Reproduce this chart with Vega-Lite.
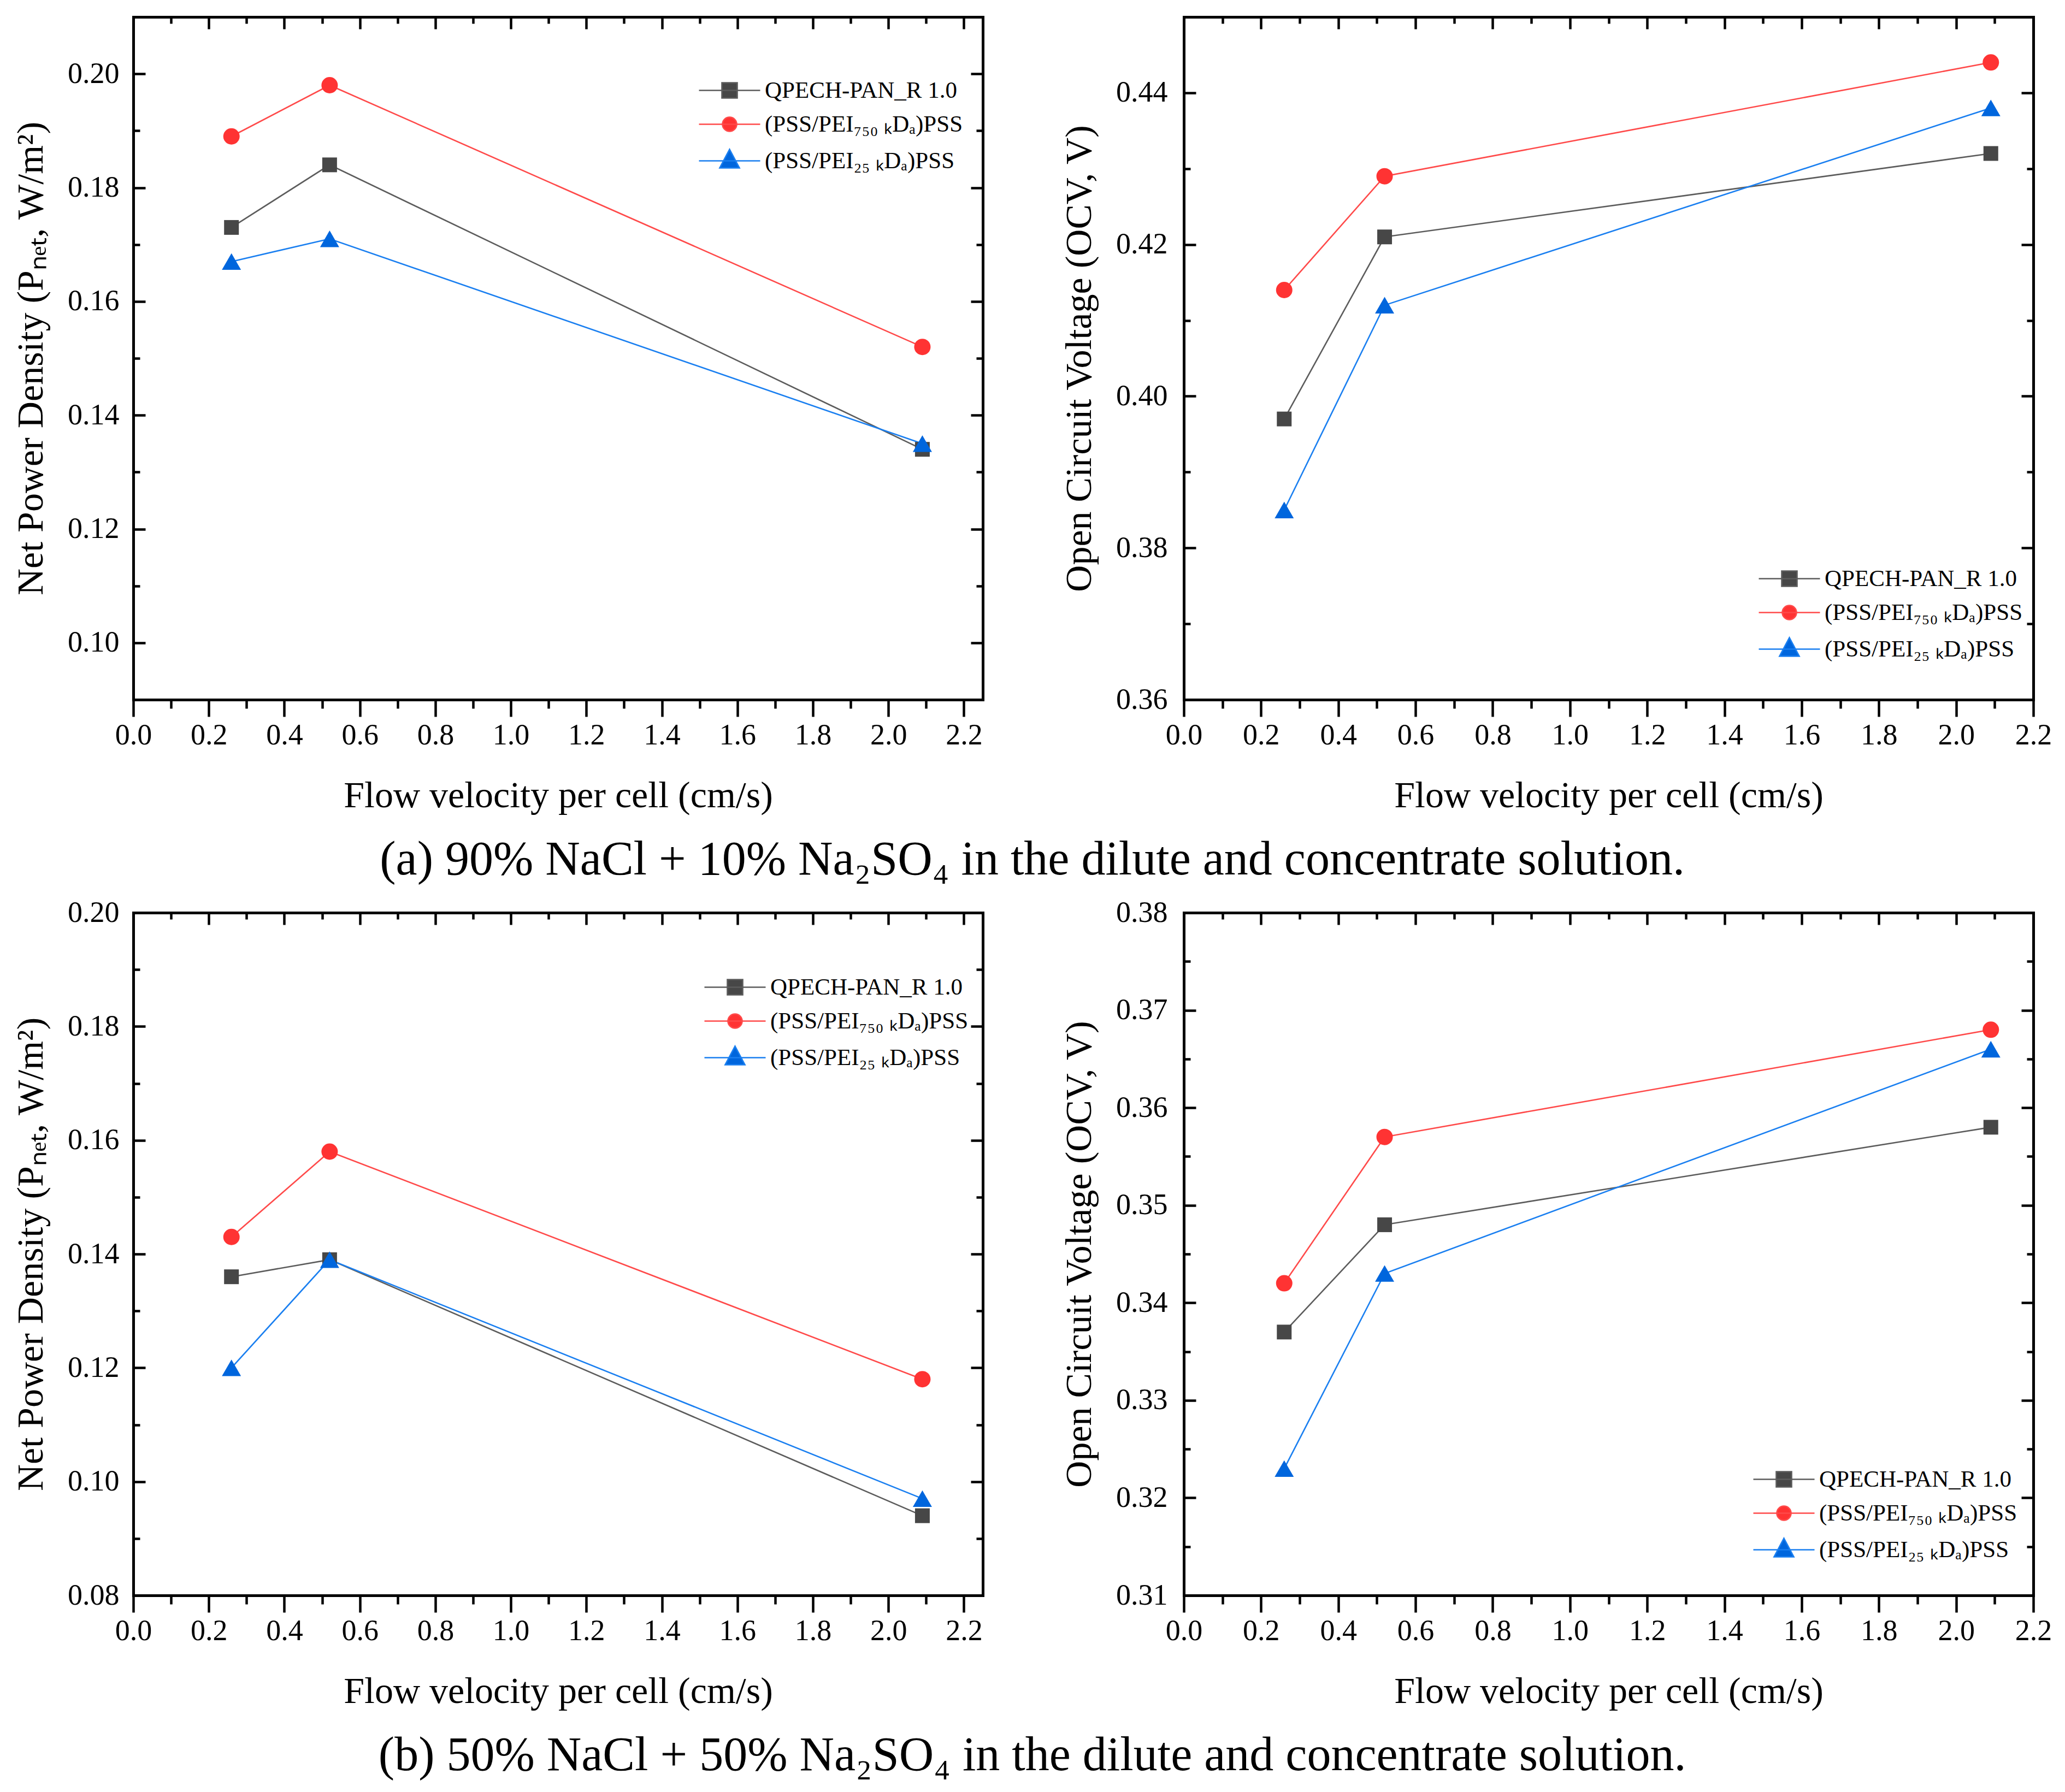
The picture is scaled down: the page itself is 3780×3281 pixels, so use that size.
{
  "$schema": "https://vega.github.io/schema/vega-lite/v6.json",
  "background": "white",
  "padding": {"left": 23, "top": 28, "right": 10, "bottom": 10},
  "config": {
    "view": {"stroke": null},
    "axis": {
      "grid": false, "labelFlush": false,
      "labelFont": "Liberation Serif", "labelFontSize": 54, "labelColor": "black",
      "titleFont": "Liberation Serif", "titleFontSize": 68, "titleFontWeight": "normal", "titleColor": "black",
      "domainColor": "black", "domainWidth": 5, "domainCap": "square",
      "tickColor": "black", "tickWidth": 4.5
    },
    "legend": {
      "direction": "vertical", "padding": 0, "rowPadding": 18,
      "symbolSize": 1600, "symbolStrokeWidth": 2.6, "symbolOpacity": 1,
      "symbolFillColor": "#000000", "symbolStrokeColor": "#000000",
      "labelFont": "Liberation Serif", "labelFontSize": 43, "labelColor": "black",
      "labelOffset": 43, "labelLimit": 1000
    }
  },
  "datasets": {
    "pts": [
      {"panel": "a1", "series": "QPECH-PAN_R 1.0", "velocity": 0.26, "value": 0.173},
      {"panel": "a1", "series": "QPECH-PAN_R 1.0", "velocity": 0.52, "value": 0.184},
      {"panel": "a1", "series": "QPECH-PAN_R 1.0", "velocity": 2.09, "value": 0.134},
      {"panel": "a1", "series": "(PSS/PEI₇₅₀ ₖDₐ)PSS", "velocity": 0.26, "value": 0.189},
      {"panel": "a1", "series": "(PSS/PEI₇₅₀ ₖDₐ)PSS", "velocity": 0.52, "value": 0.198},
      {"panel": "a1", "series": "(PSS/PEI₇₅₀ ₖDₐ)PSS", "velocity": 2.09, "value": 0.152},
      {"panel": "a1", "series": "(PSS/PEI₂₅ ₖDₐ)PSS", "velocity": 0.26, "value": 0.167},
      {"panel": "a1", "series": "(PSS/PEI₂₅ ₖDₐ)PSS", "velocity": 0.52, "value": 0.171},
      {"panel": "a1", "series": "(PSS/PEI₂₅ ₖDₐ)PSS", "velocity": 2.09, "value": 0.135},
      {"panel": "a2", "series": "QPECH-PAN_R 1.0", "velocity": 0.26, "value": 0.397},
      {"panel": "a2", "series": "QPECH-PAN_R 1.0", "velocity": 0.52, "value": 0.421},
      {"panel": "a2", "series": "QPECH-PAN_R 1.0", "velocity": 2.09, "value": 0.432},
      {"panel": "a2", "series": "(PSS/PEI₇₅₀ ₖDₐ)PSS", "velocity": 0.26, "value": 0.414},
      {"panel": "a2", "series": "(PSS/PEI₇₅₀ ₖDₐ)PSS", "velocity": 0.52, "value": 0.429},
      {"panel": "a2", "series": "(PSS/PEI₇₅₀ ₖDₐ)PSS", "velocity": 2.09, "value": 0.444},
      {"panel": "a2", "series": "(PSS/PEI₂₅ ₖDₐ)PSS", "velocity": 0.26, "value": 0.385},
      {"panel": "a2", "series": "(PSS/PEI₂₅ ₖDₐ)PSS", "velocity": 0.52, "value": 0.412},
      {"panel": "a2", "series": "(PSS/PEI₂₅ ₖDₐ)PSS", "velocity": 2.09, "value": 0.438},
      {"panel": "b1", "series": "QPECH-PAN_R 1.0", "velocity": 0.26, "value": 0.136},
      {"panel": "b1", "series": "QPECH-PAN_R 1.0", "velocity": 0.52, "value": 0.139},
      {"panel": "b1", "series": "QPECH-PAN_R 1.0", "velocity": 2.09, "value": 0.094},
      {"panel": "b1", "series": "(PSS/PEI₇₅₀ ₖDₐ)PSS", "velocity": 0.26, "value": 0.143},
      {"panel": "b1", "series": "(PSS/PEI₇₅₀ ₖDₐ)PSS", "velocity": 0.52, "value": 0.158},
      {"panel": "b1", "series": "(PSS/PEI₇₅₀ ₖDₐ)PSS", "velocity": 2.09, "value": 0.118},
      {"panel": "b1", "series": "(PSS/PEI₂₅ ₖDₐ)PSS", "velocity": 0.26, "value": 0.120},
      {"panel": "b1", "series": "(PSS/PEI₂₅ ₖDₐ)PSS", "velocity": 0.52, "value": 0.139},
      {"panel": "b1", "series": "(PSS/PEI₂₅ ₖDₐ)PSS", "velocity": 2.09, "value": 0.097},
      {"panel": "b2", "series": "QPECH-PAN_R 1.0", "velocity": 0.26, "value": 0.337},
      {"panel": "b2", "series": "QPECH-PAN_R 1.0", "velocity": 0.52, "value": 0.348},
      {"panel": "b2", "series": "QPECH-PAN_R 1.0", "velocity": 2.09, "value": 0.358},
      {"panel": "b2", "series": "(PSS/PEI₇₅₀ ₖDₐ)PSS", "velocity": 0.26, "value": 0.342},
      {"panel": "b2", "series": "(PSS/PEI₇₅₀ ₖDₐ)PSS", "velocity": 0.52, "value": 0.357},
      {"panel": "b2", "series": "(PSS/PEI₇₅₀ ₖDₐ)PSS", "velocity": 2.09, "value": 0.368},
      {"panel": "b2", "series": "(PSS/PEI₂₅ ₖDₐ)PSS", "velocity": 0.26, "value": 0.323},
      {"panel": "b2", "series": "(PSS/PEI₂₅ ₖDₐ)PSS", "velocity": 0.52, "value": 0.343},
      {"panel": "b2", "series": "(PSS/PEI₂₅ ₖDₐ)PSS", "velocity": 2.09, "value": 0.366}
    ]
  },
  "bounds": "flush",
  "spacing": 1640,
  "resolve": {"scale": {"color": "independent", "stroke": "independent", "shape": "independent"}},
  "vconcat": [
    {
      "bounds": "flush",
      "spacing": 368,
      "resolve": {"scale": {"color": "independent", "stroke": "independent", "shape": "independent"}},
      "title": {"text": "(a) 90% NaCl + 10% Na₂SO₄ in the dilute and concentrate solution.", "orient": "bottom", "anchor": "middle", "offset": 40, "font": "Liberation Serif", "fontSize": 88, "fontWeight": "normal", "color": "black"},
      "hconcat": [
        {
          "width": 1555, "height": 1250,
          "data": {"name": "pts"},
          "transform": [{"filter": "datum.panel === 'a1'"}],
          "resolve": {"axis": {"x": "independent", "y": "independent"}},
          "layer": [
            {
              "transform": [{"filter": "false"}],
              "mark": {"type": "point", "filled": true, "opacity": 1},
              "encoding": {
                "x": {"field": "velocity", "type": "quantitative", "scale": {"domain": [0, 2.25], "nice": false, "zero": false},
                  "axis": {"orient": "bottom", "values": [0.1, 0.3, 0.5, 0.7, 0.9, 1.1, 1.3, 1.5, 1.7, 1.9, 2.1], "labels": false, "domain": false, "title": null, "tickSize": 16}},
                "y": {"field": "value", "type": "quantitative", "scale": {"domain": [0.09, 0.21], "nice": false, "zero": false},
                  "axis": {"orient": "left", "values": [0.09, 0.11, 0.13, 0.15, 0.17, 0.19, 0.21], "labels": false, "domain": false, "title": null, "tickSize": -12}},
                "color": {"field": "series", "type": "nominal", "scale": {"domain": ["QPECH-PAN_R 1.0", "(PSS/PEI₇₅₀ ₖDₐ)PSS", "(PSS/PEI₂₅ ₖDₐ)PSS"], "range": ["#474747", "#ff3333", "#0066dd"]},
                  "legend": {"title": null, "orient": "none", "legendX": 1070, "legendY": 113}},
                "stroke": {"field": "series", "type": "nominal", "scale": {"domain": ["QPECH-PAN_R 1.0", "(PSS/PEI₇₅₀ ₖDₐ)PSS", "(PSS/PEI₂₅ ₖDₐ)PSS"], "range": ["#5c5c5c", "#ff4a4a", "#1a7ff0"]},
                  "legend": {"title": null, "orient": "none", "legendX": 1070, "legendY": 113}},
                "shape": {"field": "series", "type": "nominal", "scale": {"domain": ["QPECH-PAN_R 1.0", "(PSS/PEI₇₅₀ ₖDₐ)PSS", "(PSS/PEI₂₅ ₖDₐ)PSS"], "range": ["M-2.8,0H2.8M-0.7,-0.7H0.7V0.7H-0.7Z", "M-2.8,0H2.8M-0.65,0A0.65,0.65,0,1,0,0.65,0A0.65,0.65,0,1,0,-0.65,0Z", "M-2.8,0H2.8M0,-1.05L0.9,0.65H-0.9Z"]},
                  "legend": {"title": null, "orient": "none", "legendX": 1070, "legendY": 113}}
              }
            },
            {
              "mark": {"type": "line", "strokeWidth": 2.6},
              "encoding": {
                "x": {"field": "velocity", "type": "quantitative", "scale": {"domain": [0, 2.25], "nice": false, "zero": false},
                  "axis": {"orient": "bottom", "values": [0, 0.2, 0.4, 0.6, 0.8, 1, 1.2, 1.4, 1.6, 1.8, 2, 2.2], "format": ".1f", "ticks": false, "labelPadding": 38, "title": "Flow velocity per cell (cm/s)", "titlePadding": 50}},
                "y": {"field": "value", "type": "quantitative", "scale": {"domain": [0.09, 0.21], "nice": false, "zero": false},
                  "axis": {"orient": "left", "values": [0.1, 0.12, 0.14, 0.16, 0.18, 0.2], "format": ".2f", "ticks": false, "labelPadding": 26, "title": "Net Power Density (Pₙₑₜ, W/m²)", "titlePadding": 32}},
                "stroke": {"field": "series", "type": "nominal", "scale": {"domain": ["QPECH-PAN_R 1.0", "(PSS/PEI₇₅₀ ₖDₐ)PSS", "(PSS/PEI₂₅ ₖDₐ)PSS"], "range": ["#5c5c5c", "#ff4a4a", "#1a7ff0"]}, "legend": null}
              }
            },
            {
              "mark": {"type": "point", "filled": true, "opacity": 1},
              "encoding": {
                "x": {"field": "velocity", "type": "quantitative", "scale": {"domain": [0, 2.25], "nice": false, "zero": false},
                  "axis": {"orient": "bottom", "values": [0, 0.2, 0.4, 0.6, 0.8, 1, 1.2, 1.4, 1.6, 1.8, 2, 2.2], "labels": false, "domain": false, "title": null, "tickSize": 31}},
                "y": {"field": "value", "type": "quantitative", "scale": {"domain": [0.09, 0.21], "nice": false, "zero": false},
                  "axis": {"orient": "left", "values": [0.1, 0.12, 0.14, 0.16, 0.18, 0.2], "labels": false, "domain": false, "title": null, "tickSize": -22}},
                "color": {"field": "series", "type": "nominal", "scale": {"domain": ["QPECH-PAN_R 1.0", "(PSS/PEI₇₅₀ ₖDₐ)PSS", "(PSS/PEI₂₅ ₖDₐ)PSS"], "range": ["#474747", "#ff3333", "#0066dd"]}, "legend": null},
                "shape": {"condition": [{"test": "datum.series === 'QPECH-PAN_R 1.0'", "value": "square"}, {"test": "datum.series === '(PSS/PEI₇₅₀ ₖDₐ)PSS'", "value": "circle"}], "value": "triangle-up"},
                "size": {"condition": [{"test": "datum.series === 'QPECH-PAN_R 1.0'", "value": 729}, {"test": "datum.series === '(PSS/PEI₇₅₀ ₖDₐ)PSS'", "value": 900}], "value": 1225}
              }
            },
            {
              "transform": [{"filter": "false"}],
              "mark": "point",
              "encoding": {
                "x": {"field": "velocity", "type": "quantitative", "scale": {"domain": [0, 2.25], "nice": false, "zero": false},
                  "axis": {"orient": "top", "values": [0, 0.2, 0.4, 0.6, 0.8, 1, 1.2, 1.4, 1.6, 1.8, 2, 2.2], "labels": false, "domain": true, "title": null, "tickSize": -22}},
                "y": {"field": "value", "type": "quantitative", "scale": {"domain": [0.09, 0.21], "nice": false, "zero": false},
                  "axis": {"orient": "right", "values": [0.1, 0.12, 0.14, 0.16, 0.18, 0.2], "labels": false, "domain": true, "title": null, "tickSize": -22}}
              }
            },
            {
              "transform": [{"filter": "false"}],
              "mark": "point",
              "encoding": {
                "x": {"field": "velocity", "type": "quantitative", "scale": {"domain": [0, 2.25], "nice": false, "zero": false},
                  "axis": {"orient": "top", "values": [0.1, 0.3, 0.5, 0.7, 0.9, 1.1, 1.3, 1.5, 1.7, 1.9, 2.1], "labels": false, "domain": false, "title": null, "tickSize": -12}},
                "y": {"field": "value", "type": "quantitative", "scale": {"domain": [0.09, 0.21], "nice": false, "zero": false},
                  "axis": {"orient": "right", "values": [0.09, 0.11, 0.13, 0.15, 0.17, 0.19, 0.21], "labels": false, "domain": false, "title": null, "tickSize": -12}}
              }
            }
          ]
        },
        {
          "width": 1555, "height": 1250,
          "data": {"name": "pts"},
          "transform": [{"filter": "datum.panel === 'a2'"}],
          "resolve": {"axis": {"x": "independent", "y": "independent"}},
          "layer": [
            {
              "transform": [{"filter": "false"}],
              "mark": {"type": "point", "filled": true, "opacity": 1},
              "encoding": {
                "x": {"field": "velocity", "type": "quantitative", "scale": {"domain": [0, 2.2], "nice": false, "zero": false},
                  "axis": {"orient": "bottom", "values": [0.1, 0.3, 0.5, 0.7, 0.9, 1.1, 1.3, 1.5, 1.7, 1.9, 2.1], "labels": false, "domain": false, "title": null, "tickSize": 16}},
                "y": {"field": "value", "type": "quantitative", "scale": {"domain": [0.36, 0.45], "nice": false, "zero": false},
                  "axis": {"orient": "left", "values": [0.37, 0.39, 0.41, 0.43, 0.45], "labels": false, "domain": false, "title": null, "tickSize": -12}},
                "color": {"field": "series", "type": "nominal", "scale": {"domain": ["QPECH-PAN_R 1.0", "(PSS/PEI₇₅₀ ₖDₐ)PSS", "(PSS/PEI₂₅ ₖDₐ)PSS"], "range": ["#474747", "#ff3333", "#0066dd"]},
                  "legend": {"title": null, "orient": "none", "legendX": 1087, "legendY": 1007}},
                "stroke": {"field": "series", "type": "nominal", "scale": {"domain": ["QPECH-PAN_R 1.0", "(PSS/PEI₇₅₀ ₖDₐ)PSS", "(PSS/PEI₂₅ ₖDₐ)PSS"], "range": ["#5c5c5c", "#ff4a4a", "#1a7ff0"]},
                  "legend": {"title": null, "orient": "none", "legendX": 1087, "legendY": 1007}},
                "shape": {"field": "series", "type": "nominal", "scale": {"domain": ["QPECH-PAN_R 1.0", "(PSS/PEI₇₅₀ ₖDₐ)PSS", "(PSS/PEI₂₅ ₖDₐ)PSS"], "range": ["M-2.8,0H2.8M-0.7,-0.7H0.7V0.7H-0.7Z", "M-2.8,0H2.8M-0.65,0A0.65,0.65,0,1,0,0.65,0A0.65,0.65,0,1,0,-0.65,0Z", "M-2.8,0H2.8M0,-1.05L0.9,0.65H-0.9Z"]},
                  "legend": {"title": null, "orient": "none", "legendX": 1087, "legendY": 1007}}
              }
            },
            {
              "mark": {"type": "line", "strokeWidth": 2.6},
              "encoding": {
                "x": {"field": "velocity", "type": "quantitative", "scale": {"domain": [0, 2.2], "nice": false, "zero": false},
                  "axis": {"orient": "bottom", "values": [0, 0.2, 0.4, 0.6, 0.8, 1, 1.2, 1.4, 1.6, 1.8, 2, 2.2], "format": ".1f", "ticks": false, "labelPadding": 38, "title": "Flow velocity per cell (cm/s)", "titlePadding": 50}},
                "y": {"field": "value", "type": "quantitative", "scale": {"domain": [0.36, 0.45], "nice": false, "zero": false},
                  "axis": {"orient": "left", "values": [0.36, 0.38, 0.4, 0.42, 0.44], "format": ".2f", "ticks": false, "labelPadding": 30, "title": "Open Circuit Voltage (OCV, V)", "titlePadding": 32}},
                "stroke": {"field": "series", "type": "nominal", "scale": {"domain": ["QPECH-PAN_R 1.0", "(PSS/PEI₇₅₀ ₖDₐ)PSS", "(PSS/PEI₂₅ ₖDₐ)PSS"], "range": ["#5c5c5c", "#ff4a4a", "#1a7ff0"]}, "legend": null}
              }
            },
            {
              "mark": {"type": "point", "filled": true, "opacity": 1},
              "encoding": {
                "x": {"field": "velocity", "type": "quantitative", "scale": {"domain": [0, 2.2], "nice": false, "zero": false},
                  "axis": {"orient": "bottom", "values": [0, 0.2, 0.4, 0.6, 0.8, 1, 1.2, 1.4, 1.6, 1.8, 2, 2.2], "labels": false, "domain": false, "title": null, "tickSize": 31}},
                "y": {"field": "value", "type": "quantitative", "scale": {"domain": [0.36, 0.45], "nice": false, "zero": false},
                  "axis": {"orient": "left", "values": [0.36, 0.38, 0.4, 0.42, 0.44], "labels": false, "domain": false, "title": null, "tickSize": -22}},
                "color": {"field": "series", "type": "nominal", "scale": {"domain": ["QPECH-PAN_R 1.0", "(PSS/PEI₇₅₀ ₖDₐ)PSS", "(PSS/PEI₂₅ ₖDₐ)PSS"], "range": ["#474747", "#ff3333", "#0066dd"]}, "legend": null},
                "shape": {"condition": [{"test": "datum.series === 'QPECH-PAN_R 1.0'", "value": "square"}, {"test": "datum.series === '(PSS/PEI₇₅₀ ₖDₐ)PSS'", "value": "circle"}], "value": "triangle-up"},
                "size": {"condition": [{"test": "datum.series === 'QPECH-PAN_R 1.0'", "value": 729}, {"test": "datum.series === '(PSS/PEI₇₅₀ ₖDₐ)PSS'", "value": 900}], "value": 1225}
              }
            },
            {
              "transform": [{"filter": "false"}],
              "mark": "point",
              "encoding": {
                "x": {"field": "velocity", "type": "quantitative", "scale": {"domain": [0, 2.2], "nice": false, "zero": false},
                  "axis": {"orient": "top", "values": [0, 0.2, 0.4, 0.6, 0.8, 1, 1.2, 1.4, 1.6, 1.8, 2, 2.2], "labels": false, "domain": true, "title": null, "tickSize": -22}},
                "y": {"field": "value", "type": "quantitative", "scale": {"domain": [0.36, 0.45], "nice": false, "zero": false},
                  "axis": {"orient": "right", "values": [0.36, 0.38, 0.4, 0.42, 0.44], "labels": false, "domain": true, "title": null, "tickSize": -22}}
              }
            },
            {
              "transform": [{"filter": "false"}],
              "mark": "point",
              "encoding": {
                "x": {"field": "velocity", "type": "quantitative", "scale": {"domain": [0, 2.2], "nice": false, "zero": false},
                  "axis": {"orient": "top", "values": [0.1, 0.3, 0.5, 0.7, 0.9, 1.1, 1.3, 1.5, 1.7, 1.9, 2.1], "labels": false, "domain": false, "title": null, "tickSize": -12}},
                "y": {"field": "value", "type": "quantitative", "scale": {"domain": [0.36, 0.45], "nice": false, "zero": false},
                  "axis": {"orient": "right", "values": [0.37, 0.39, 0.41, 0.43, 0.45], "labels": false, "domain": false, "title": null, "tickSize": -12}}
              }
            }
          ]
        }
      ]
    },
    {
      "bounds": "flush",
      "spacing": 368,
      "resolve": {"scale": {"color": "independent", "stroke": "independent", "shape": "independent"}},
      "title": {"text": "(b) 50% NaCl + 50% Na₂SO₄ in the dilute and concentrate solution.", "orient": "bottom", "anchor": "middle", "offset": 40, "font": "Liberation Serif", "fontSize": 88, "fontWeight": "normal", "color": "black"},
      "hconcat": [
        {
          "width": 1555, "height": 1250,
          "data": {"name": "pts"},
          "transform": [{"filter": "datum.panel === 'b1'"}],
          "resolve": {"axis": {"x": "independent", "y": "independent"}},
          "layer": [
            {
              "transform": [{"filter": "false"}],
              "mark": {"type": "point", "filled": true, "opacity": 1},
              "encoding": {
                "x": {"field": "velocity", "type": "quantitative", "scale": {"domain": [0, 2.25], "nice": false, "zero": false},
                  "axis": {"orient": "bottom", "values": [0.1, 0.3, 0.5, 0.7, 0.9, 1.1, 1.3, 1.5, 1.7, 1.9, 2.1], "labels": false, "domain": false, "title": null, "tickSize": 16}},
                "y": {"field": "value", "type": "quantitative", "scale": {"domain": [0.08, 0.2], "nice": false, "zero": false},
                  "axis": {"orient": "left", "values": [0.09, 0.11, 0.13, 0.15, 0.17, 0.19], "labels": false, "domain": false, "title": null, "tickSize": -12}},
                "color": {"field": "series", "type": "nominal", "scale": {"domain": ["QPECH-PAN_R 1.0", "(PSS/PEI₇₅₀ ₖDₐ)PSS", "(PSS/PEI₂₅ ₖDₐ)PSS"], "range": ["#474747", "#ff3333", "#0066dd"]},
                  "legend": {"title": null, "orient": "none", "legendX": 1080, "legendY": 115}},
                "stroke": {"field": "series", "type": "nominal", "scale": {"domain": ["QPECH-PAN_R 1.0", "(PSS/PEI₇₅₀ ₖDₐ)PSS", "(PSS/PEI₂₅ ₖDₐ)PSS"], "range": ["#5c5c5c", "#ff4a4a", "#1a7ff0"]},
                  "legend": {"title": null, "orient": "none", "legendX": 1080, "legendY": 115}},
                "shape": {"field": "series", "type": "nominal", "scale": {"domain": ["QPECH-PAN_R 1.0", "(PSS/PEI₇₅₀ ₖDₐ)PSS", "(PSS/PEI₂₅ ₖDₐ)PSS"], "range": ["M-2.8,0H2.8M-0.7,-0.7H0.7V0.7H-0.7Z", "M-2.8,0H2.8M-0.65,0A0.65,0.65,0,1,0,0.65,0A0.65,0.65,0,1,0,-0.65,0Z", "M-2.8,0H2.8M0,-1.05L0.9,0.65H-0.9Z"]},
                  "legend": {"title": null, "orient": "none", "legendX": 1080, "legendY": 115}}
              }
            },
            {
              "mark": {"type": "line", "strokeWidth": 2.6},
              "encoding": {
                "x": {"field": "velocity", "type": "quantitative", "scale": {"domain": [0, 2.25], "nice": false, "zero": false},
                  "axis": {"orient": "bottom", "values": [0, 0.2, 0.4, 0.6, 0.8, 1, 1.2, 1.4, 1.6, 1.8, 2, 2.2], "format": ".1f", "ticks": false, "labelPadding": 38, "title": "Flow velocity per cell (cm/s)", "titlePadding": 50}},
                "y": {"field": "value", "type": "quantitative", "scale": {"domain": [0.08, 0.2], "nice": false, "zero": false},
                  "axis": {"orient": "left", "values": [0.08, 0.1, 0.12, 0.14, 0.16, 0.18, 0.2], "format": ".2f", "ticks": false, "labelPadding": 26, "title": "Net Power Density (Pₙₑₜ, W/m²)", "titlePadding": 32}},
                "stroke": {"field": "series", "type": "nominal", "scale": {"domain": ["QPECH-PAN_R 1.0", "(PSS/PEI₇₅₀ ₖDₐ)PSS", "(PSS/PEI₂₅ ₖDₐ)PSS"], "range": ["#5c5c5c", "#ff4a4a", "#1a7ff0"]}, "legend": null}
              }
            },
            {
              "mark": {"type": "point", "filled": true, "opacity": 1},
              "encoding": {
                "x": {"field": "velocity", "type": "quantitative", "scale": {"domain": [0, 2.25], "nice": false, "zero": false},
                  "axis": {"orient": "bottom", "values": [0, 0.2, 0.4, 0.6, 0.8, 1, 1.2, 1.4, 1.6, 1.8, 2, 2.2], "labels": false, "domain": false, "title": null, "tickSize": 31}},
                "y": {"field": "value", "type": "quantitative", "scale": {"domain": [0.08, 0.2], "nice": false, "zero": false},
                  "axis": {"orient": "left", "values": [0.08, 0.1, 0.12, 0.14, 0.16, 0.18, 0.2], "labels": false, "domain": false, "title": null, "tickSize": -22}},
                "color": {"field": "series", "type": "nominal", "scale": {"domain": ["QPECH-PAN_R 1.0", "(PSS/PEI₇₅₀ ₖDₐ)PSS", "(PSS/PEI₂₅ ₖDₐ)PSS"], "range": ["#474747", "#ff3333", "#0066dd"]}, "legend": null},
                "shape": {"condition": [{"test": "datum.series === 'QPECH-PAN_R 1.0'", "value": "square"}, {"test": "datum.series === '(PSS/PEI₇₅₀ ₖDₐ)PSS'", "value": "circle"}], "value": "triangle-up"},
                "size": {"condition": [{"test": "datum.series === 'QPECH-PAN_R 1.0'", "value": 729}, {"test": "datum.series === '(PSS/PEI₇₅₀ ₖDₐ)PSS'", "value": 900}], "value": 1225}
              }
            },
            {
              "transform": [{"filter": "false"}],
              "mark": "point",
              "encoding": {
                "x": {"field": "velocity", "type": "quantitative", "scale": {"domain": [0, 2.25], "nice": false, "zero": false},
                  "axis": {"orient": "top", "values": [0, 0.2, 0.4, 0.6, 0.8, 1, 1.2, 1.4, 1.6, 1.8, 2, 2.2], "labels": false, "domain": true, "title": null, "tickSize": -22}},
                "y": {"field": "value", "type": "quantitative", "scale": {"domain": [0.08, 0.2], "nice": false, "zero": false},
                  "axis": {"orient": "right", "values": [0.08, 0.1, 0.12, 0.14, 0.16, 0.18, 0.2], "labels": false, "domain": true, "title": null, "tickSize": -22}}
              }
            },
            {
              "transform": [{"filter": "false"}],
              "mark": "point",
              "encoding": {
                "x": {"field": "velocity", "type": "quantitative", "scale": {"domain": [0, 2.25], "nice": false, "zero": false},
                  "axis": {"orient": "top", "values": [0.1, 0.3, 0.5, 0.7, 0.9, 1.1, 1.3, 1.5, 1.7, 1.9, 2.1], "labels": false, "domain": false, "title": null, "tickSize": -12}},
                "y": {"field": "value", "type": "quantitative", "scale": {"domain": [0.08, 0.2], "nice": false, "zero": false},
                  "axis": {"orient": "right", "values": [0.09, 0.11, 0.13, 0.15, 0.17, 0.19], "labels": false, "domain": false, "title": null, "tickSize": -12}}
              }
            }
          ]
        },
        {
          "width": 1555, "height": 1250,
          "data": {"name": "pts"},
          "transform": [{"filter": "datum.panel === 'b2'"}],
          "resolve": {"axis": {"x": "independent", "y": "independent"}},
          "layer": [
            {
              "transform": [{"filter": "false"}],
              "mark": {"type": "point", "filled": true, "opacity": 1},
              "encoding": {
                "x": {"field": "velocity", "type": "quantitative", "scale": {"domain": [0, 2.2], "nice": false, "zero": false},
                  "axis": {"orient": "bottom", "values": [0.1, 0.3, 0.5, 0.7, 0.9, 1.1, 1.3, 1.5, 1.7, 1.9, 2.1], "labels": false, "domain": false, "title": null, "tickSize": 16}},
                "y": {"field": "value", "type": "quantitative", "scale": {"domain": [0.31, 0.38], "nice": false, "zero": false},
                  "axis": {"orient": "left", "values": [0.315, 0.325, 0.335, 0.345, 0.355, 0.365, 0.375], "labels": false, "domain": false, "title": null, "tickSize": -12}},
                "color": {"field": "series", "type": "nominal", "scale": {"domain": ["QPECH-PAN_R 1.0", "(PSS/PEI₇₅₀ ₖDₐ)PSS", "(PSS/PEI₂₅ ₖDₐ)PSS"], "range": ["#474747", "#ff3333", "#0066dd"]},
                  "legend": {"title": null, "orient": "none", "legendX": 1077, "legendY": 1016}},
                "stroke": {"field": "series", "type": "nominal", "scale": {"domain": ["QPECH-PAN_R 1.0", "(PSS/PEI₇₅₀ ₖDₐ)PSS", "(PSS/PEI₂₅ ₖDₐ)PSS"], "range": ["#5c5c5c", "#ff4a4a", "#1a7ff0"]},
                  "legend": {"title": null, "orient": "none", "legendX": 1077, "legendY": 1016}},
                "shape": {"field": "series", "type": "nominal", "scale": {"domain": ["QPECH-PAN_R 1.0", "(PSS/PEI₇₅₀ ₖDₐ)PSS", "(PSS/PEI₂₅ ₖDₐ)PSS"], "range": ["M-2.8,0H2.8M-0.7,-0.7H0.7V0.7H-0.7Z", "M-2.8,0H2.8M-0.65,0A0.65,0.65,0,1,0,0.65,0A0.65,0.65,0,1,0,-0.65,0Z", "M-2.8,0H2.8M0,-1.05L0.9,0.65H-0.9Z"]},
                  "legend": {"title": null, "orient": "none", "legendX": 1077, "legendY": 1016}}
              }
            },
            {
              "mark": {"type": "line", "strokeWidth": 2.6},
              "encoding": {
                "x": {"field": "velocity", "type": "quantitative", "scale": {"domain": [0, 2.2], "nice": false, "zero": false},
                  "axis": {"orient": "bottom", "values": [0, 0.2, 0.4, 0.6, 0.8, 1, 1.2, 1.4, 1.6, 1.8, 2, 2.2], "format": ".1f", "ticks": false, "labelPadding": 38, "title": "Flow velocity per cell (cm/s)", "titlePadding": 50}},
                "y": {"field": "value", "type": "quantitative", "scale": {"domain": [0.31, 0.38], "nice": false, "zero": false},
                  "axis": {"orient": "left", "values": [0.31, 0.32, 0.33, 0.34, 0.35, 0.36, 0.37, 0.38], "format": ".2f", "ticks": false, "labelPadding": 30, "title": "Open Circuit Voltage (OCV, V)", "titlePadding": 32}},
                "stroke": {"field": "series", "type": "nominal", "scale": {"domain": ["QPECH-PAN_R 1.0", "(PSS/PEI₇₅₀ ₖDₐ)PSS", "(PSS/PEI₂₅ ₖDₐ)PSS"], "range": ["#5c5c5c", "#ff4a4a", "#1a7ff0"]}, "legend": null}
              }
            },
            {
              "mark": {"type": "point", "filled": true, "opacity": 1},
              "encoding": {
                "x": {"field": "velocity", "type": "quantitative", "scale": {"domain": [0, 2.2], "nice": false, "zero": false},
                  "axis": {"orient": "bottom", "values": [0, 0.2, 0.4, 0.6, 0.8, 1, 1.2, 1.4, 1.6, 1.8, 2, 2.2], "labels": false, "domain": false, "title": null, "tickSize": 31}},
                "y": {"field": "value", "type": "quantitative", "scale": {"domain": [0.31, 0.38], "nice": false, "zero": false},
                  "axis": {"orient": "left", "values": [0.31, 0.32, 0.33, 0.34, 0.35, 0.36, 0.37, 0.38], "labels": false, "domain": false, "title": null, "tickSize": -22}},
                "color": {"field": "series", "type": "nominal", "scale": {"domain": ["QPECH-PAN_R 1.0", "(PSS/PEI₇₅₀ ₖDₐ)PSS", "(PSS/PEI₂₅ ₖDₐ)PSS"], "range": ["#474747", "#ff3333", "#0066dd"]}, "legend": null},
                "shape": {"condition": [{"test": "datum.series === 'QPECH-PAN_R 1.0'", "value": "square"}, {"test": "datum.series === '(PSS/PEI₇₅₀ ₖDₐ)PSS'", "value": "circle"}], "value": "triangle-up"},
                "size": {"condition": [{"test": "datum.series === 'QPECH-PAN_R 1.0'", "value": 729}, {"test": "datum.series === '(PSS/PEI₇₅₀ ₖDₐ)PSS'", "value": 900}], "value": 1225}
              }
            },
            {
              "transform": [{"filter": "false"}],
              "mark": "point",
              "encoding": {
                "x": {"field": "velocity", "type": "quantitative", "scale": {"domain": [0, 2.2], "nice": false, "zero": false},
                  "axis": {"orient": "top", "values": [0, 0.2, 0.4, 0.6, 0.8, 1, 1.2, 1.4, 1.6, 1.8, 2, 2.2], "labels": false, "domain": true, "title": null, "tickSize": -22}},
                "y": {"field": "value", "type": "quantitative", "scale": {"domain": [0.31, 0.38], "nice": false, "zero": false},
                  "axis": {"orient": "right", "values": [0.31, 0.32, 0.33, 0.34, 0.35, 0.36, 0.37, 0.38], "labels": false, "domain": true, "title": null, "tickSize": -22}}
              }
            },
            {
              "transform": [{"filter": "false"}],
              "mark": "point",
              "encoding": {
                "x": {"field": "velocity", "type": "quantitative", "scale": {"domain": [0, 2.2], "nice": false, "zero": false},
                  "axis": {"orient": "top", "values": [0.1, 0.3, 0.5, 0.7, 0.9, 1.1, 1.3, 1.5, 1.7, 1.9, 2.1], "labels": false, "domain": false, "title": null, "tickSize": -12}},
                "y": {"field": "value", "type": "quantitative", "scale": {"domain": [0.31, 0.38], "nice": false, "zero": false},
                  "axis": {"orient": "right", "values": [0.315, 0.325, 0.335, 0.345, 0.355, 0.365, 0.375], "labels": false, "domain": false, "title": null, "tickSize": -12}}
              }
            }
          ]
        }
      ]
    }
  ]
}
